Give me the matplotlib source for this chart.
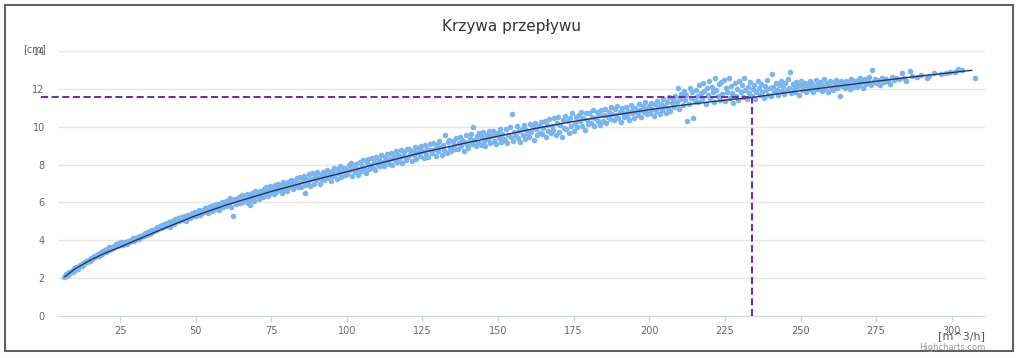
import matplotlib.pyplot as plt
from matplotlib.patches import Rectangle

flow = [
    6.6, 7.0, 7.3, 7.8, 8.1, 8.5, 9.0, 9.3, 9.8, 10.2,
    10.6, 11.0, 11.5, 11.9, 12.3, 12.8, 13.2, 13.7, 14.1, 14.6,
    15.0, 15.5, 15.9, 16.4, 16.8, 17.3, 17.7, 18.2, 18.6, 19.1, 19.5, 20.0,
    20.4, 20.8, 21.2, 21.5, 21.9, 22.3, 22.7, 23.0, 23.4, 23.8,
    24.2, 24.6, 25.0, 25.3, 25.7, 26.1, 26.5, 26.9, 27.3, 27.7,
    28.1, 28.5, 28.9, 29.3, 29.7, 30.1, 30.5, 30.9, 31.3, 31.7,
    32.1, 32.5, 32.9, 33.3, 33.7, 34.1, 34.5, 34.9, 35.3, 35.7,
    36.1, 36.5, 36.9, 37.3, 37.7, 38.1, 38.5, 38.9, 39.3, 39.7,
    40.1, 40.5, 40.8, 41.2, 41.6, 42.0, 42.3, 42.7, 43.1, 43.5, 43.8,
    44.2, 44.6, 45.0, 45.3, 45.7, 46.1, 46.5, 46.8, 47.2, 47.6, 48.0,
    48.3, 48.7, 49.1, 49.5, 49.8, 50.2, 50.6, 51.0, 51.3, 51.7, 52.1,
    52.5, 52.8, 53.2, 53.6, 54.0, 54.3, 54.7, 55.1, 55.5, 55.8, 56.2,
    56.6, 57.0, 57.3, 57.7, 58.1, 58.5, 58.8, 59.2, 59.6, 60.0,
    60.2, 60.6, 61.0, 61.4, 61.8, 62.2, 62.5, 63.0, 63.4, 63.8,
    64.2, 64.6, 65.0, 65.4, 65.8, 66.2, 66.6, 67.0, 67.4, 67.8,
    68.2, 68.6, 69.0, 69.4, 69.8, 70.2, 70.6, 71.0, 71.4, 71.8,
    72.2, 72.6, 73.0, 73.4, 73.8, 74.2, 74.6, 75.0, 75.4, 75.8,
    76.2, 76.6, 77.0, 77.4, 77.8, 78.2, 78.6, 79.0, 79.4, 79.8,
    80.2, 80.6, 81.0, 81.4, 81.8, 82.2, 82.6, 83.0, 83.4, 83.8,
    84.2, 84.6, 85.0, 85.4, 85.8, 86.2, 86.6, 87.0, 87.4, 87.8,
    88.2, 88.6, 89.0, 89.4, 89.8, 90.2, 90.6, 91.0, 91.4, 91.8,
    92.2, 92.6, 93.0, 93.4, 93.8, 94.2, 94.6, 95.0, 95.4, 95.8,
    96.2, 96.6, 97.0, 97.4, 97.8, 98.2, 98.6, 99.0, 99.4, 99.8,
    68.0, 86.2,
    100.2, 100.6, 101.0, 101.4, 101.8, 102.2, 102.6, 103.0, 103.4, 103.8,
    104.2, 104.6, 105.0, 105.4, 105.8, 106.2, 106.6, 107.0, 107.4, 107.8,
    108.2, 108.6, 109.0, 109.4, 109.8, 110.2, 110.6, 111.0, 111.4, 111.8,
    112.2, 112.6, 113.0, 113.4, 113.8, 114.2, 114.6, 115.0, 115.4, 115.8,
    116.2, 116.6, 117.0, 117.4, 117.8, 118.2, 118.6, 119.0, 119.4, 119.8,
    120.2, 120.6, 121.0, 121.4, 121.8, 122.2, 122.6, 123.0, 123.4, 123.8,
    124.2, 124.6, 125.0, 125.4, 125.8, 126.2, 126.6, 127.0, 127.4, 127.8,
    128.2, 128.6, 129.0, 129.4, 129.8, 130.2, 130.6, 131.0, 131.4, 131.8,
    132.2, 132.6, 133.0, 133.4, 133.8, 134.2, 134.6, 135.0, 135.4, 135.8,
    136.2, 136.6, 137.0, 137.4, 137.8, 138.2, 138.6, 139.0, 139.4, 139.8,
    140.2, 140.6, 141.0, 141.4, 141.8, 142.2, 142.6, 143.0, 143.4, 143.8,
    144.2, 144.6, 145.0, 145.4, 145.8, 146.2, 146.6, 147.0, 147.4, 147.8,
    148.2, 148.6, 149.0, 149.4, 149.8, 150.2, 150.6, 151.0, 151.4, 151.8,
    152.2, 152.6, 153.0, 153.4, 153.8, 154.2, 154.5, 155.0, 155.4, 155.8,
    156.2, 156.6, 157.0, 157.4, 157.8, 158.2, 158.6, 159.0, 159.4, 159.8,
    160.2, 160.6, 161.0, 161.4, 161.8, 162.2, 162.6, 163.0, 163.4, 163.8,
    164.2, 164.6, 165.0, 165.4, 165.8, 166.2, 166.6, 167.0, 167.4, 167.8,
    168.2, 168.6, 169.0, 169.4, 169.8, 170.2, 170.6, 171.0, 171.4, 171.8,
    172.2, 172.6, 173.0, 173.4, 173.8, 174.2, 174.6, 175.0, 175.4, 175.8,
    176.2, 176.6, 177.0, 177.4, 177.8, 178.2, 178.6, 179.0, 179.4, 179.8,
    180.2, 180.6, 181.0, 181.4, 181.8, 182.2, 182.6, 183.0, 183.4, 183.8,
    184.2, 184.6, 185.0, 185.4, 185.8, 186.2, 186.6, 187.0, 187.4, 187.8,
    188.2, 188.6, 189.0, 189.4, 189.8, 190.2, 190.6, 191.0, 191.4, 191.8,
    192.2, 192.6, 193.0, 193.4, 193.8, 194.2, 194.6, 195.0, 195.4, 195.8,
    196.2, 196.6, 197.0, 197.4, 197.8, 198.2, 198.6, 199.0, 199.4, 199.8,
    200.2, 200.6, 201.0, 201.4, 201.8, 202.2, 202.6, 203.0, 203.4, 203.8,
    204.2, 204.6, 205.0, 205.4, 205.8, 206.2, 206.6, 207.0, 207.4, 207.8,
    208.2, 208.6, 209.0, 209.4, 209.8, 210.2, 210.6, 211.0, 211.4, 211.8,
    212.2, 212.5, 213.0, 213.4, 213.8, 214.2, 214.5, 215.0, 215.4, 215.8,
    216.2, 216.6, 217.0, 217.4, 217.8, 218.2, 218.6, 219.0, 219.4, 219.8,
    220.2, 220.6, 221.0, 221.4, 221.8, 222.2, 222.6, 223.0, 223.4, 223.8,
    224.2, 224.6, 225.0, 225.4, 225.8, 226.2, 226.6, 227.0, 227.4, 227.8,
    228.2, 228.6, 229.0, 229.4, 229.8, 230.2, 230.6, 231.0, 231.4, 231.8,
    232.2, 232.6, 233.0, 233.4, 233.8, 234.2, 234.6, 235.0, 235.4, 235.8,
    236.2, 236.6, 237.0, 237.4, 237.8, 238.2, 238.6, 239.0, 239.4, 239.8,
    240.2, 240.5, 241.0, 241.4, 241.8, 242.2, 242.6, 243.0, 243.4, 243.8,
    244.2, 244.6, 245.0, 245.4, 245.8, 246.2, 246.5, 247.0, 247.4, 247.8,
    248.2, 248.6, 249.0, 249.4, 249.8, 250.2, 250.6, 251.0, 251.4, 251.8,
    252.2, 252.6, 253.0, 253.4, 253.8, 254.2, 254.6, 255.0, 255.4, 255.8,
    256.2, 256.6, 257.0, 257.4, 257.8, 258.2, 258.6, 259.0, 259.4, 259.8,
    260.2, 260.6, 261.0, 261.4, 261.8, 262.2, 262.6, 263.1, 263.4, 263.8,
    264.2, 264.6, 265.0, 265.4, 265.8, 266.2, 266.6, 267.0, 267.4, 267.8,
    268.2, 268.6, 269.0, 269.4, 269.8, 270.3, 270.8, 271.3, 271.8,
    272.3, 272.8, 273.2, 273.6, 274.1, 274.6, 275.2, 275.8, 276.3, 277.0,
    277.6, 278.2, 279.0, 279.7, 280.2, 281.0, 281.6,
    282.4, 283.5, 284.2, 285.0, 286.2, 287.0, 288.5, 290.0, 291.8, 292.6,
    294.0, 296.5, 298.0, 299.5, 301.0, 302.2, 303.5, 307.7,
]
level = [
    2.05, 2.12, 2.22, 2.18, 2.30, 2.28, 2.40, 2.35, 2.52, 2.45,
    2.58, 2.50, 2.66, 2.72, 2.62, 2.80, 2.76, 2.90, 2.84, 2.98,
    2.92, 3.08, 3.02, 3.15, 3.10, 3.22, 3.30, 3.18, 3.36, 3.30, 3.42, 3.48,
    3.40, 3.55, 3.48, 3.62, 3.52, 3.66, 3.58, 3.72, 3.64, 3.78,
    3.70, 3.85, 3.76, 3.90, 3.82, 3.74, 3.92, 3.86, 3.80, 3.96,
    3.90, 4.02, 3.96, 4.10, 3.98, 4.14, 4.06, 4.20, 4.08, 4.24,
    4.18, 4.30, 4.22, 4.38, 4.28, 4.44, 4.34, 4.50, 4.40, 4.56,
    4.48, 4.62, 4.52, 4.68, 4.58, 4.74, 4.64, 4.80, 4.70, 4.86,
    4.75, 4.92, 4.82, 4.98, 4.70, 4.95, 5.04, 4.88, 5.10, 4.96, 5.06,
    5.18, 5.00, 5.12, 5.24, 5.06, 5.30, 5.15, 5.02, 5.26, 5.36, 5.20,
    5.32, 5.44, 5.26, 5.38, 5.50, 5.30, 5.46, 5.58, 5.36, 5.52, 5.44,
    5.62, 5.48, 5.70, 5.56, 5.42, 5.74, 5.62, 5.80, 5.54, 5.70, 5.86,
    5.66, 5.90, 5.76, 5.60, 5.94, 5.82, 6.02, 5.74, 5.96, 6.10,
    5.82, 6.14, 5.96, 6.22, 5.78, 6.06, 5.30, 6.20, 5.92, 6.12,
    6.30, 5.98, 6.18, 6.40, 6.04, 6.26, 6.12, 6.44, 5.96, 6.34,
    6.20, 6.52, 6.30, 6.10, 6.58, 6.36, 6.46, 6.18, 6.62, 6.40,
    6.28, 6.70, 6.48, 6.80, 6.36, 6.62, 6.88, 6.52, 6.74, 6.42,
    6.90, 6.56, 6.78, 7.00, 6.64, 6.86, 6.48, 7.06, 6.72, 6.94,
    6.62, 7.10, 6.84, 7.20, 6.96, 6.70, 7.14, 6.90, 7.28, 6.80,
    7.04, 7.36, 6.82, 7.18, 7.42, 6.94, 7.26, 7.10, 7.48, 6.88,
    7.22, 7.54, 7.00, 7.40, 7.16, 7.60, 7.30, 6.98, 7.46, 7.26,
    7.62, 7.18, 7.44, 7.70, 7.28, 7.52, 7.12, 7.66, 7.38, 7.80,
    7.48, 7.26, 7.74, 7.56, 7.90, 7.36, 7.64, 7.82, 7.44, 7.70,
    5.85, 6.50,
    7.52, 7.96, 7.70, 8.10, 7.40, 7.84, 7.62, 8.02, 7.78, 7.46,
    8.14, 7.66, 7.92, 8.24, 7.80, 7.58, 8.06, 8.30, 7.74, 7.98,
    8.36, 7.84, 8.12, 7.70, 8.42, 8.00, 8.24, 7.90, 8.48, 8.16,
    7.92, 8.40, 8.20, 8.58, 8.04, 8.32, 8.62, 7.98, 8.44, 8.26,
    8.70, 8.14, 8.52, 8.30, 8.76, 8.06, 8.44, 8.64, 8.22, 8.80,
    8.38, 8.84, 8.56, 8.20, 8.72, 8.48, 8.94, 8.30, 8.66, 8.90,
    8.46, 8.98, 8.70, 8.34, 9.04, 8.58, 8.84, 8.42, 9.10, 8.76,
    8.60, 9.12, 8.82, 8.44, 9.02, 8.70, 9.22, 8.92, 8.52, 9.06,
    8.78, 9.56, 8.62, 9.18, 9.30, 8.90, 8.70, 9.26, 9.04, 8.80,
    9.40, 8.84, 9.16, 9.48, 8.96, 9.30, 8.74, 9.20, 9.54, 9.02,
    8.90, 9.36, 9.62, 9.10, 9.96, 9.28, 8.96, 9.50, 9.18, 9.66,
    9.06, 9.44, 9.72, 9.22, 9.00, 9.58, 9.34, 9.78, 9.12, 9.50,
    9.80, 9.26, 9.54, 9.10, 9.68, 9.40, 9.86, 9.20, 9.62, 9.36,
    9.32, 9.88, 9.14, 9.58, 9.96, 9.44, 10.65, 9.24, 9.72, 9.50,
    10.02, 9.40, 9.76, 9.18, 9.90, 9.56, 10.10, 9.34, 9.82, 9.64,
    9.48, 10.14, 9.72, 9.98, 9.30, 10.20, 9.86, 9.56, 10.06, 9.66,
    10.26, 9.60, 9.94, 10.32, 9.44, 10.10, 9.78, 10.40, 9.66, 10.04,
    9.84, 10.46, 9.58, 10.20, 10.52, 9.70, 10.08, 9.46, 10.36, 9.92,
    10.58, 9.90, 10.30, 9.66, 10.44, 10.02, 10.70, 9.80, 10.18, 10.50,
    9.96, 10.62, 10.28, 10.80, 10.06, 10.46, 9.84, 10.72, 10.34, 10.14,
    10.70, 10.20, 10.52, 10.90, 10.02, 10.44, 10.78, 10.28, 10.60, 10.10,
    10.86, 10.30, 10.64, 10.96, 10.20, 10.52, 10.80, 10.40, 11.02, 10.66,
    10.34, 10.92, 10.60, 11.10, 10.46, 10.78, 10.24, 10.98, 10.70, 10.50,
    11.06, 10.56, 10.84, 10.38, 11.16, 10.72, 10.94, 10.48, 11.00, 10.80,
    10.62, 11.20, 10.88, 10.50, 11.12, 10.76, 11.30, 10.96, 10.66, 11.08,
    10.70, 11.26, 10.94, 10.58, 11.18, 10.82, 11.38, 11.04, 10.66, 11.22,
    10.88, 11.44, 11.10, 10.74, 11.32, 11.00, 11.56, 10.84, 11.24, 11.48,
    11.02, 11.62, 11.30, 12.02, 10.96, 11.48, 11.74, 11.14, 11.88, 11.40,
    11.70, 10.30, 11.22, 12.06, 11.54, 11.84, 10.46, 11.36, 11.96, 11.62,
    11.28, 12.18, 11.76, 11.46, 12.30, 11.90, 11.20, 12.04, 11.66, 12.40,
    11.50, 12.12, 11.84, 11.30, 12.60, 11.96, 11.62, 12.24, 11.42, 12.36,
    11.72, 12.48, 11.34, 12.02, 11.86, 12.56, 11.54, 12.14, 11.78, 11.24,
    12.30, 11.62, 12.00, 11.40, 12.44, 11.82, 12.18, 11.56, 12.58, 11.92,
    11.48, 12.10, 11.76, 12.34, 11.60, 11.98, 12.22, 11.44, 11.86, 12.40,
    12.06, 11.66, 12.28, 11.84, 11.52, 12.14, 11.94, 12.46, 11.70, 12.02,
    11.60, 12.78, 12.10, 11.82, 12.32, 11.96, 11.68, 12.20, 12.42, 11.88,
    12.14, 11.74, 12.30, 11.92, 12.50, 12.06, 12.87, 11.80, 12.24, 12.00,
    11.86, 12.36, 12.10, 11.70, 12.22, 12.44, 11.94, 12.16, 12.30, 11.82,
    12.20, 11.92, 12.40, 12.06, 12.28, 11.84, 12.14, 12.46, 11.98, 12.24,
    12.04, 12.36, 11.90, 12.18, 12.50, 12.00, 12.30, 11.86, 12.22, 12.42,
    12.10, 11.96, 12.34, 12.20, 12.48, 12.02, 12.28, 11.64, 12.40, 12.14,
    12.26, 12.04, 12.44, 12.16, 12.36, 11.98, 12.52, 12.22, 12.10, 12.40,
    12.30, 12.12, 12.46, 12.20, 12.58, 12.34, 12.06, 12.50, 12.26,
    12.42, 12.64, 12.18, 13.00, 12.38, 12.54, 12.30, 12.48, 12.22, 12.60,
    12.36, 12.50, 12.40, 12.28, 12.64, 12.46, 12.56,
    12.52, 12.82, 12.60, 12.44, 12.96, 12.70, 12.62, 12.74, 12.55, 12.66,
    12.82, 12.78, 12.84, 12.87, 12.90, 13.05, 12.98, 12.55,
]

# fitted curve, read at a few flows
fit_flow = [6.8, 10, 15, 20, 25, 30, 40, 50, 60, 75, 90, 100, 112, 125, 137, 150,
            162, 175, 187, 200, 212, 225, 234, 250, 262, 275, 287, 300, 306.6]
fit_level = [2.08, 2.48, 2.94, 3.32, 3.64, 3.98, 4.66, 5.30, 5.86, 6.58, 7.22, 7.62, 8.12, 8.64, 9.06, 9.50,
             9.90, 10.28, 10.58, 10.90, 11.16, 11.40, 11.55, 11.90, 12.14, 12.40, 12.63, 12.86, 12.98]

# read-off point marked with dashed lines
read_flow = 234
read_level = 11.55

x_ticks = [25, 50, 75, 100, 125, 150, 175, 200, 225, 250, 275, 300]
y_ticks = [0, 2, 4, 6, 8, 10, 12, 14]

W, H = 1024, 358
fig = plt.figure(figsize=(W / 100, H / 100), dpi=100)
ax = fig.add_axes([58 / W, 1 - 316 / H, (985 - 58) / W, (316 - 51) / H])

ax.scatter(flow, level, s=16, color='#7cb5ec', linewidths=0, zorder=3)
ax.plot(fit_flow, fit_level, color='#2b3263', lw=1.0, zorder=4)

dash = (0, (3.4, 1.7))
ax.plot([-1, read_flow], [read_level, read_level], color='#7030a0', lw=1.5, ls=dash, clip_on=False, zorder=5)
ax.plot([read_flow, read_flow], [0, read_level], color='#7030a0', lw=1.5, ls=dash, clip_on=False, zorder=5)

ax.set_xlim(4.5, 311)
ax.set_ylim(0, 14)
ax.set_xticks(x_ticks)
ax.set_yticks(y_ticks)
ax.grid(axis='y', color='#e6e6e6', lw=1, zorder=0)
ax.set_axisbelow(True)
ax.tick_params(axis='y', length=0, pad=9.5, labelsize=7, labelcolor='#666666')
ax.tick_params(axis='x', length=4.5, width=1, color='#ccd6eb', pad=2.5, labelsize=7, labelcolor='#666666')
for s in ['left', 'right', 'top']:
    ax.spines[s].set_visible(False)
ax.spines['bottom'].set_color('#ccd6eb')

fig.text(512 / W, 1 - 27 / H, 'Krzywa przepływu', ha='center', va='center', fontsize=11, color='#333333')
fig.text(23 / W, 1 - 49 / H, '[cm]', ha='left', va='center', fontsize=7, color='#666666')
fig.text(985 / W, 1 - 336 / H, '[m^3/h]', ha='right', va='center', fontsize=8, color='#555555')
fig.text(985 / W, 1 - 347 / H, 'Highcharts.com', ha='right', va='center', fontsize=6, color='#999999')

fig.add_artist(Rectangle((4.5 / W, 1 - 351 / H), (1013 - 4.5) / W, (351 - 4.5) / H,
                         transform=fig.transFigure, fill=False, ec='#606060', lw=1.5))

fig.savefig('out.png', dpi=100)
